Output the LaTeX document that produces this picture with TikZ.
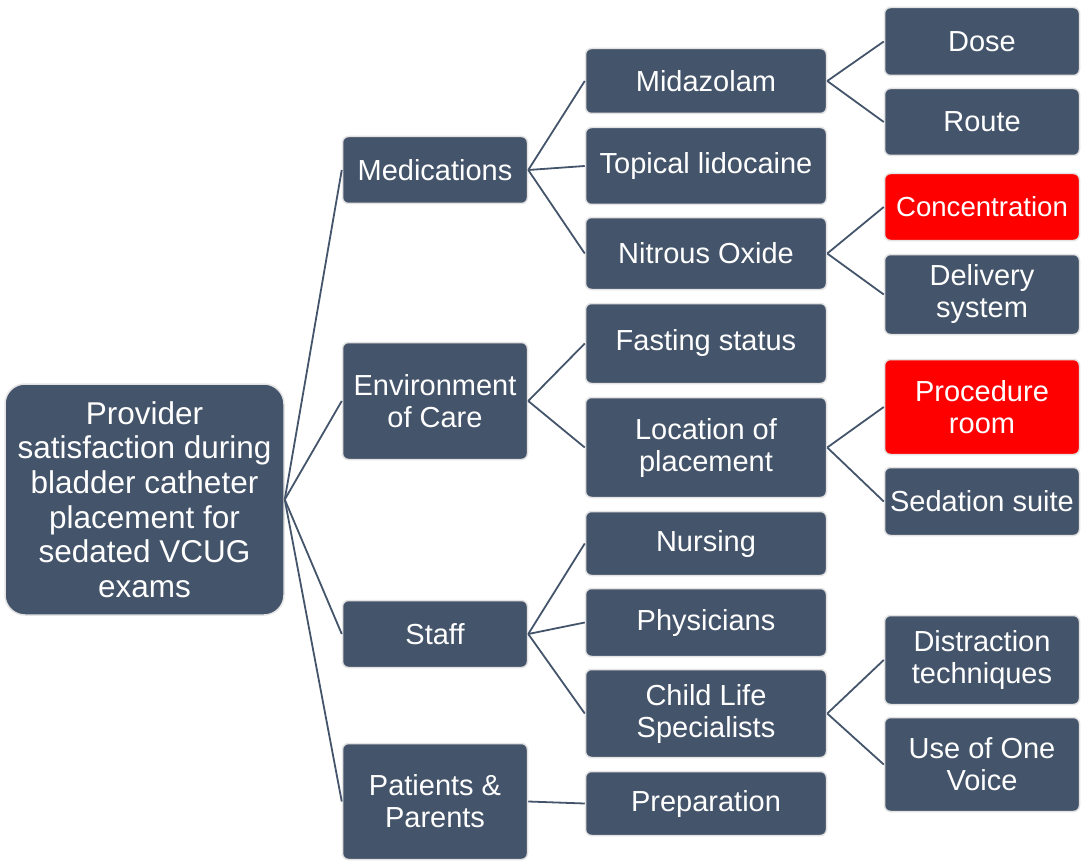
\documentclass[tikz,border=0pt]{standalone}
\usepackage{fontspec}
\setmainfont{Liberation Sans}
\definecolor{cajaazul}{HTML}{44546A}
\definecolor{borde}{HTML}{E3E3E3}
\definecolor{rojo}{HTML}{FF0000}
\tikzset{
  caja/.style={fill=cajaazul, draw=borde, line width=1.5pt, rounded corners=6pt,
    text=white, align=center, inner sep=0pt, font=\fontsize{29}{32}\selectfont},
  raiz/.style={caja, rounded corners=20pt, font=\fontsize{31.5}{34.6}\selectfont},
  alerta/.style={caja, fill=rojo},
  nivA/.style={caja, minimum width=185pt},
  nivB/.style={caja, minimum width=241pt},
  nivC/.style={caja, minimum width=195pt},
  rama/.style={draw=cajaazul, line width=1.8pt}
}
\begin{document}
\begin{tikzpicture}[x=1pt, y=-1pt]
  \useasboundingbox (0,0) rectangle (1081,861);

  % Raiz
  \node[raiz, minimum width=279pt, minimum height=231pt] (prov) at (144.5,499.5)
    {Provider\\satisfaction during\\bladder catheter\\placement for\\sedated VCUG\\exams};

  % Primer nivel
  \node[nivA, minimum height=67pt] (med) at (435,170) {Medications};
  \node[nivA, minimum height=117pt] (env) at (435,401) {Environment\\of Care};
  \node[nivA, minimum height=67pt] (staff) at (435,634) {Staff};
  \node[nivA, minimum height=116pt] (pat) at (435,801.5) {Patients \&\\Parents};

  % Segundo nivel
  \node[nivB, minimum height=65pt] (mid) at (706,81) {Midazolam};
  \node[nivB, minimum height=77pt] (top) at (706,166) {Topical lidocaine};
  \node[nivB, minimum height=72pt] (nit) at (706,253.5) {Nitrous Oxide};
  \node[nivB, minimum height=80pt] (fast) at (706,343.5) {Fasting status};
  \node[nivB, minimum height=100pt] (loc) at (706,447.5) {Location of\\placement};
  \node[nivB, minimum height=64pt] (nurs) at (706,543.5) {Nursing};
  \node[nivB, minimum height=68pt] (phys) at (706,622.5) {Physicians};
  \node[nivB, minimum height=88pt] (child) at (706,713.5) {Child Life\\Specialists};
  \node[nivB, minimum height=64pt] (prep) at (706,803.5) {Preparation};

  % Tercer nivel
  \node[nivC, minimum height=68pt] (dose) at (982,41.5) {Dose};
  \node[nivC, minimum height=67pt] (route) at (982,122) {Route};
  \node[nivC, alerta, minimum height=67pt, font=\fontsize{27.6}{32}\selectfont] (conc) at (982,207) {Concentration};
  \node[nivC, minimum height=80pt] (deliv) at (982,294.5) {Delivery\\system};
  \node[nivC, alerta, minimum height=95pt] (proc) at (982,407) {Procedure\\room};
  \node[nivC, minimum height=68pt] (sed) at (982,501.5) {Sedation suite};
  \node[nivC, minimum height=89pt] (dist) at (982,660) {Distraction\\techniques};
  \node[nivC, minimum height=94pt] (voice) at (982,764.5) {Use of One\\Voice};

  % Conexiones
  \foreach \a/\b in {prov/med, prov/env, prov/staff, prov/pat,
                     med/mid, med/top, med/nit, env/fast, env/loc,
                     staff/nurs, staff/phys, staff/child, pat/prep,
                     mid/dose, mid/route, nit/conc, nit/deliv,
                     loc/proc, loc/sed, child/dist, child/voice}
    \draw[rama] (\a.east) -- (\b.west);

\end{tikzpicture}
\end{document}
